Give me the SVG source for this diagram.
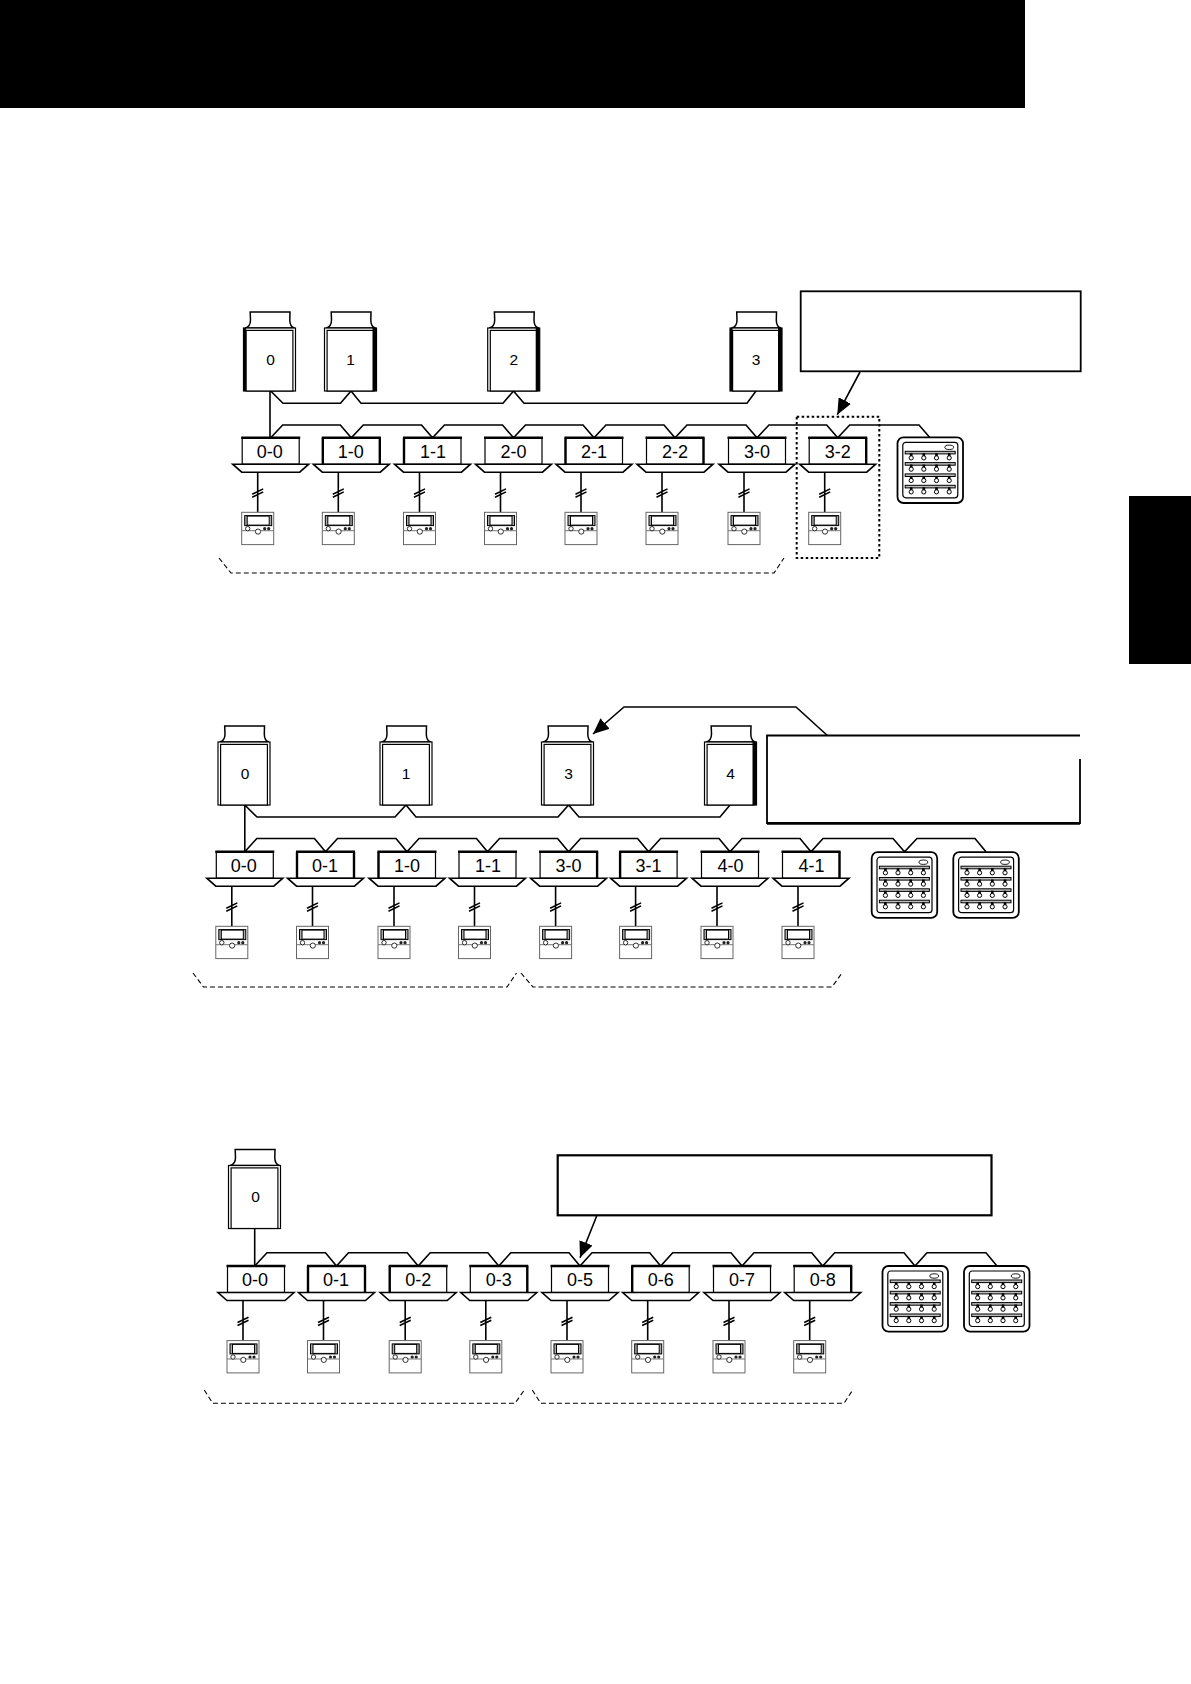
<svg xmlns="http://www.w3.org/2000/svg" xmlns:xlink="http://www.w3.org/1999/xlink" width="1191" height="1684" viewBox="0 0 1191 1684">
<style>
.bg{fill:#fff}
.k{fill:#000}
.bus{fill:none;stroke:#000;stroke-width:1.6;stroke-linejoin:miter}
.ln{fill:none;stroke:#000;stroke-width:1.6}
.gl{fill:none;stroke:#777;stroke-width:1}
.box{fill:#fff;stroke:#000;stroke-width:1.2}
.thick{fill:none;stroke:#000;stroke-width:2.4}
.pan{fill:#fff;stroke:#000;stroke-width:1.6;stroke-linejoin:miter}
.odu{fill:#fff;stroke:#000;stroke-width:1.2}
.hood{fill:#fff;stroke:#000;stroke-width:1.5}
.call{fill:#fff;stroke:#000;stroke-width:1.8}
.dash{fill:none;stroke:#000;stroke-width:1.1;stroke-dasharray:5 3}
.dot{fill:none;stroke:#000;stroke-width:2;stroke-dasharray:2.5 2.5}
.arr{fill:none;stroke:#000;stroke-width:1.6;marker-end:url(#head)}
text{font-family:"Liberation Sans",Arial,sans-serif;fill:#000;text-anchor:middle}
.l{font-size:18px}
.o{font-size:15.5px}
</style>
<defs>
<marker id="head" markerUnits="userSpaceOnUse" markerWidth="18" markerHeight="14" refX="16" refY="7" orient="auto"><path d="M0 0L16 7L0 14Z" fill="#000"/></marker>
<g id="remote">
<rect x="0" y="0" width="32" height="32.3" fill="#fff" stroke="#666"/>
<path d="M0 18.4H32" class="gl"/>
<rect x="3" y="3.3" width="27" height="10" fill="#aaa" stroke="#000" stroke-width="1"/>
<rect x="5.5" y="3.8" width="22" height="9" fill="#fff" stroke="#000" stroke-width="1"/>
<circle cx="6" cy="16.4" r="2.2" fill="#fff" stroke="#000" stroke-width=".8"/>
<circle cx="16.3" cy="19.3" r="2.6" fill="#fff" stroke="#000" stroke-width=".8"/>
<circle cx="23" cy="16.4" r="1.6" fill="#222"/>
<circle cx="27" cy="16.4" r="1.6" fill="#222"/>
</g>
<g id="iu">
<rect class="box" x="-28.5" y="0" width="57" height="26.5"/>
<path class="thick" d="M-29.5 0H29.5"/>
<path class="pan" d="M-38 26.5H38L29 34.5H-29Z"/>
<path class="ln" d="M-13 34.5V74.6M-18.5 56.5L-7.5 51.2M-18.5 59.5L-7.5 54.2"/>
<use href="#remote" x="-29" y="74.6"/>
</g>
<path id="sl" class="thick" d="M-28.5 0V26.5"/>
<path id="sr" class="thick" d="M28.5 0V26.5"/>
<g id="odu">
<path class="hood" d="M1.5 0C6 -1 7 -4 7 -8L6.7 -16H46.5L46.3 -8C46.3 -4 47 -1 51 0Z"/>
<rect class="odu" x="0" y="0" width="52" height="63"/>
<rect class="odu" x="2.6" y="2.4" width="46.8" height="60.6"/>
</g>
<rect id="tl" x="0" y="0" width="2.6" height="63" fill="#000"/>
<rect id="tr" x="48" y="0" width="4" height="63" fill="#000"/>
<g id="row">
<rect x="7.7" y="0" width="50" height="2.6" fill="#bbb" stroke="#000" stroke-width="1"/>
<path d="M13.7 2V5.5M26.3 2V5.5M39 2V5.5M51.7 2V5.5" stroke="#000" stroke-width="2.6" fill="none"/>
<circle cx="13.7" cy="6.6" r="2.1" fill="#fff" stroke="#000" stroke-width="1"/>
<circle cx="26.3" cy="6.6" r="2.1" fill="#fff" stroke="#000" stroke-width="1"/>
<circle cx="39" cy="6.6" r="2.1" fill="#fff" stroke="#000" stroke-width="1"/>
<circle cx="51.7" cy="6.6" r="2.1" fill="#fff" stroke="#000" stroke-width="1"/>
</g>
<g id="panel">
<rect x="0" y="0" width="65.5" height="65.7" rx="6" fill="#fff" stroke="#000" stroke-width="1.8"/>
<rect x="5.3" y="5" width="55" height="55.5" rx="3" fill="#fff" stroke="#000" stroke-width="1.2"/>
<ellipse cx="51.7" cy="10" rx="4.4" ry="2.2" fill="#fff" stroke="#000" stroke-width=".9"/>
<use href="#row" y="14"/>
<use href="#row" y="25.3"/>
<use href="#row" y="36.6"/>
<use href="#row" y="48"/>
</g>
</defs>

<g id="page-marks">
<rect class="k" x="0" y="0" width="1025" height="108"/>
<rect class="k" x="1129" y="496" width="62" height="168"/>
</g>

<g id="connectors">
<path class="bus" d="M270 391V437.7M270.7 391L283 403.3H340.5L351 391L361 403.3H503L513.5 391L524 403.3H747L756 391"/>
<path class="bus" d="M270.7 437.7L282.7 425H340.3L351.3 437.7L363.3 425H421.5L432.5 437.7L444.5 425H502.5L513.5 437.7L525.5 425H583L594 437.7L606 425H664L675 437.7L687 425H746L757 437.7L769 425H826.7L837.7 437.7L849.7 425H919L930 437.7"/>
<path class="dash" d="M219 558L231 573H774L784 558"/>
<path class="dot" d="M796.7 416.7H879.3V558H796.7Z"/>
<path class="arr" d="M860 372L837.3 414.7"/>

<path class="bus" d="M244.8 805V851.7M244.8 805L257 817H395L406 805L416 817H558L568.6 805L579 817H720L730 805"/>
<path class="bus" d="M244.8 851.7L256.8 838.5H314.5L325.5 851.7L337.5 838.5H396L407 851.7L419 838.5H476.5L487.5 851.7L499.5 838.5H557.6L568.6 851.7L580.6 838.5H637.6L648.6 851.7L660.6 838.5H719L730 851.7L742 838.5H800L811 851.7L823 838.5H893L904.5 851.7L917 838.5H975L986 851.7"/>
<path class="dash" d="M193 973L203.5 987H507L516.5 973"/>
<path class="dash" d="M521 973L533 987H832L842 973"/>
<path class="arr" d="M829 737L796 707H624L593 734"/>

<path class="bus" d="M254.7 1227V1266"/>
<path class="bus" d="M254.7 1266L267 1252.7H325.5L336.5 1266L348.5 1252.7H407.2L418.2 1266L430.2 1252.7H487.8L498.8 1266L510.8 1252.7H569L580 1266L592 1252.7H649.7L660.7 1266L672.7 1252.7H731L742 1266L754 1252.7H811.7L822.7 1266L834.7 1252.7H904L915 1266L927 1252.7H986L997 1266"/>
<path class="dash" d="M204.3 1390L212.7 1403.3H515L524.3 1390"/>
<path class="dash" d="M532.3 1390L540.7 1403.3H844L852.7 1390"/>
<path class="arr" d="M596.7 1216L580 1257.7"/>
</g>

<g id="callouts">
<rect class="call" x="800.7" y="291.3" width="280" height="80"/>
<g id="callout-2"><rect x="767" y="735.5" width="313" height="88" fill="#fff"/><path d="M1080 735.5H767V823H1080V759" fill="none" stroke="#000" stroke-width="1.8"/><path d="M767 823.5H1080" stroke="#000" stroke-width="2.4"/></g>
<rect x="557.7" y="1155.3" width="433.8" height="60" fill="#fff" stroke="#000" stroke-width="2.2"/>
</g>

<g id="d1-odu-0" transform="translate(243.5 328)"><use href="#odu"/><use href="#tl"/><text class="o" x="27" y="36.5">0</text></g>
<g id="d1-odu-1" transform="translate(324.5 328)"><use href="#odu"/><use href="#tr"/><text class="o" x="26" y="36.5">1</text></g>
<g id="d1-odu-2" transform="translate(487.7 328)"><use href="#odu"/><use href="#tr"/><text class="o" x="26" y="36.5">2</text></g>
<g id="d1-odu-3" transform="translate(730 328)"><use href="#odu"/><use href="#tl"/><use href="#tr"/><text class="o" x="26" y="36.5">3</text></g>

<g id="d1-iu-0-0" transform="translate(270.7 437.7)"><use href="#iu"/><text class="l" x="-1" y="20.2">0-0</text></g>
<g id="d1-iu-1-0" transform="translate(351.3 437.7)"><use href="#iu"/><use href="#sl"/><use href="#sr"/><text class="l" x="-.5" y="20.2">1-0</text></g>
<g id="d1-iu-1-1" transform="translate(432.5 437.7)"><use href="#iu"/><use href="#sl"/><text class="l" x=".5" y="20.2">1-1</text></g>
<g id="d1-iu-2-0" transform="translate(513.5 437.7)"><use href="#iu"/><text class="l" x="0" y="20.2">2-0</text></g>
<g id="d1-iu-2-1" transform="translate(594 437.7)"><use href="#iu"/><use href="#sl"/><text class="l" x="0" y="20.2">2-1</text></g>
<g id="d1-iu-2-2" transform="translate(675 437.7)"><use href="#iu"/><use href="#sr"/><text class="l" x="0" y="20.2">2-2</text></g>
<g id="d1-iu-3-0" transform="translate(757 437.7)"><use href="#iu"/><text class="l" x="0" y="20.2">3-0</text></g>
<g id="d1-iu-3-2" transform="translate(837.7 437.7)"><use href="#iu"/><use href="#sr"/><text class="l" x="0" y="20.2">3-2</text></g>
<g id="d1-panel" transform="translate(897.5 437.3)"><use href="#panel"/></g>

<g id="d2-odu-0" transform="translate(218 742)"><use href="#odu"/><text class="o" x="27" y="36.5">0</text></g>
<g id="d2-odu-1" transform="translate(380 742)"><use href="#odu"/><text class="o" x="26" y="36.5">1</text></g>
<g id="d2-odu-3" transform="translate(541.5 742)"><use href="#odu"/><text class="o" x="27" y="36.5">3</text></g>
<g id="d2-odu-4" transform="translate(704.5 742)"><use href="#odu"/><use href="#tr"/><text class="o" x="26" y="36.5">4</text></g>

<g id="d2-iu-0-0" transform="translate(244.8 851.7)"><use href="#iu"/><text class="l" x="-1" y="20.2">0-0</text></g>
<g id="d2-iu-0-1" transform="translate(325.5 851.7)"><use href="#iu"/><use href="#sl"/><use href="#sr"/><text class="l" x="-.5" y="20.2">0-1</text></g>
<g id="d2-iu-1-0" transform="translate(407 851.7)"><use href="#iu"/><use href="#sl"/><text class="l" x="0" y="20.2">1-0</text></g>
<g id="d2-iu-1-1" transform="translate(487.5 851.7)"><use href="#iu"/><text class="l" x=".5" y="20.2">1-1</text></g>
<g id="d2-iu-3-0" transform="translate(568.6 851.7)"><use href="#iu"/><use href="#sr"/><text class="l" x="0" y="20.2">3-0</text></g>
<g id="d2-iu-3-1" transform="translate(648.6 851.7)"><use href="#iu"/><use href="#sl"/><text class="l" x="0" y="20.2">3-1</text></g>
<g id="d2-iu-4-0" transform="translate(730 851.7)"><use href="#iu"/><text class="l" x=".5" y="20.2">4-0</text></g>
<g id="d2-iu-4-1" transform="translate(811 851.7)"><use href="#iu"/><use href="#sr"/><text class="l" x=".5" y="20.2">4-1</text></g>
<g id="d2-panel-1" transform="translate(871.7 852.2)"><use href="#panel"/></g>
<g id="d2-panel-2" transform="translate(953.3 852.2)"><use href="#panel"/></g>

<g id="d3-odu-0" transform="translate(228.5 1165.5)"><use href="#odu"/><text class="o" x="27" y="36.5">0</text></g>
<g id="d3-iu-0-0" transform="translate(256 1266)"><use href="#iu"/><text class="l" x="-1" y="20.2">0-0</text></g>
<g id="d3-iu-0-1" transform="translate(336.5 1266)"><use href="#iu"/><use href="#sl"/><use href="#sr"/><text class="l" x="-.5" y="20.2">0-1</text></g>
<g id="d3-iu-0-2" transform="translate(418.2 1266)"><use href="#iu"/><use href="#sl"/><text class="l" x="0" y="20.2">0-2</text></g>
<g id="d3-iu-0-3" transform="translate(498.8 1266)"><use href="#iu"/><use href="#sr"/><text class="l" x="0" y="20.2">0-3</text></g>
<g id="d3-iu-0-5" transform="translate(580 1266)"><use href="#iu"/><text class="l" x="0" y="20.2">0-5</text></g>
<g id="d3-iu-0-6" transform="translate(660.7 1266)"><use href="#iu"/><use href="#sl"/><text class="l" x="0" y="20.2">0-6</text></g>
<g id="d3-iu-0-7" transform="translate(742 1266)"><use href="#iu"/><text class="l" x="0" y="20.2">0-7</text></g>
<g id="d3-iu-0-8" transform="translate(822.7 1266)"><use href="#iu"/><use href="#sr"/><text class="l" x="0" y="20.2">0-8</text></g>
<g id="d3-panel-1" transform="translate(882.5 1266)"><use href="#panel"/></g>
<g id="d3-panel-2" transform="translate(964 1266)"><use href="#panel"/></g>
</svg>
